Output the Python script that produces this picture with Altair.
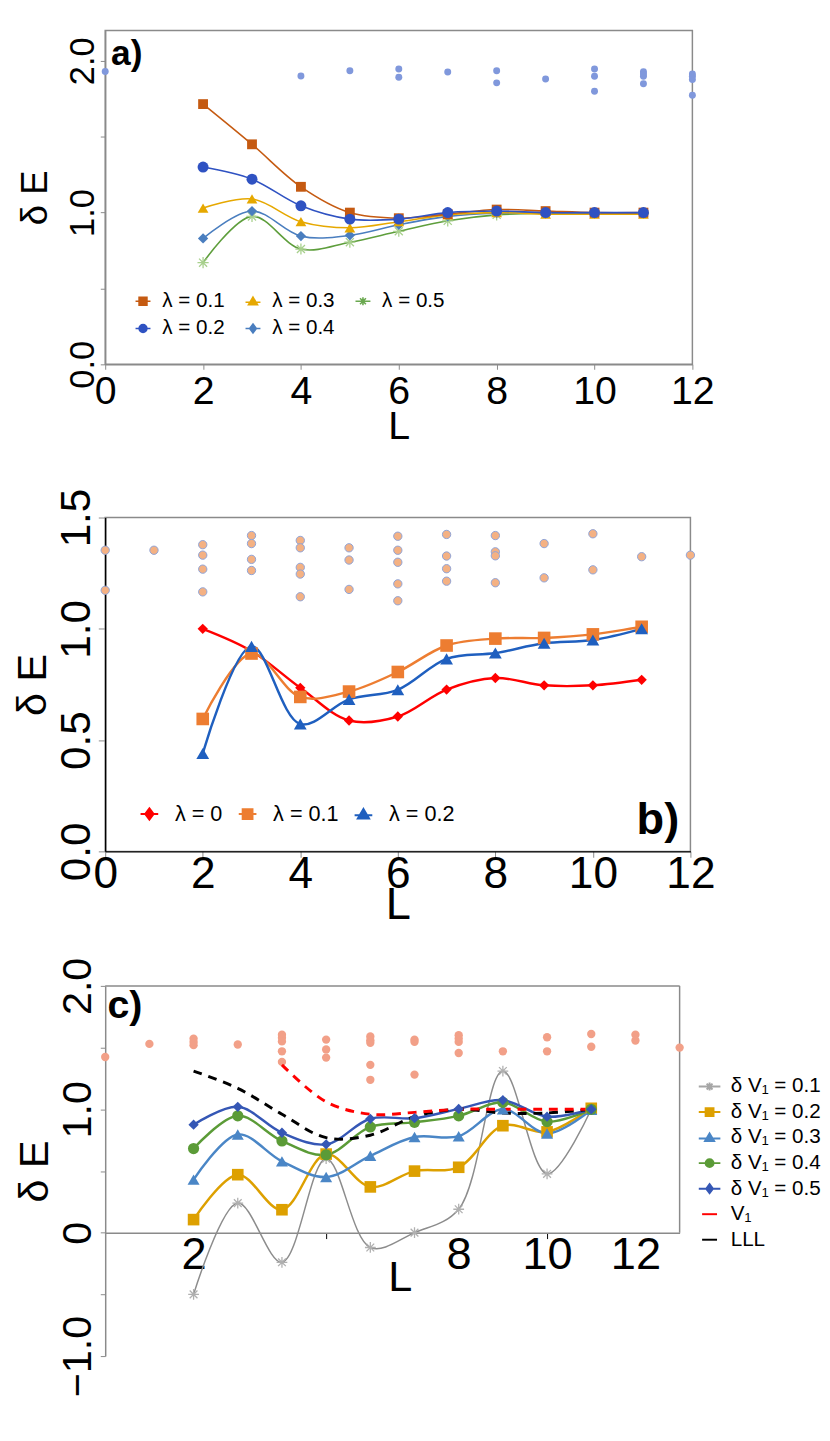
import altair as alt
import pandas as pd

FONT = "Liberation Sans"
GRAY = "#8a8a8a"

# ---------------- panel a data ----------------
A_L = [2, 3, 4, 5, 6, 7, 8, 9, 10, 11]
A_LAM01 = [1.715, 1.45, 1.17, 1.00, 0.963, 0.99, 1.02, 1.01, 1.00, 1.00]
A_LAM02 = [1.30, 1.22, 1.045, 0.957, 0.957, 1.00, 1.01, 1.00, 1.00, 1.00]
A_LAM03 = [1.03, 1.09, 0.94, 0.90, 0.94, 0.985, 1.00, 0.99, 0.99, 0.99]
A_LAM04 = [0.83, 1.01, 0.845, 0.85, 0.92, 0.975, 0.996, 0.996, 0.996, 0.996]
A_LAM05 = [0.67, 0.975, 0.76, 0.805, 0.877, 0.946, 0.985, 0.996, 0.996, 0.996]
A_NAMES = ["λ = 0.1", "λ = 0.2", "λ = 0.3", "λ = 0.4", "λ = 0.5"]
A_SCAT_L = [0, 4, 5, 6, 6, 7, 8, 8, 9, 10, 10, 10, 11, 11, 11, 11, 12, 12, 12, 12]
A_SCAT_E = [1.93, 1.90, 1.935, 1.946, 1.892, 1.927, 1.935, 1.855, 1.881,
            1.946, 1.898, 1.80, 1.929, 1.914, 1.898, 1.849, 1.914, 1.898, 1.877, 1.773]

# ---------------- panel b data ----------------
B_L = [2, 3, 4, 5, 6, 7, 8, 9, 10, 11]
B_LAM0 = [1.0, 0.90, 0.735, 0.588, 0.606, 0.727, 0.779, 0.746, 0.746, 0.771]
B_LAM01 = [0.595, 0.889, 0.694, 0.718, 0.806, 0.925, 0.956, 0.959, 0.975, 1.009]
B_LAM02 = [0.44, 0.921, 0.572, 0.683, 0.726, 0.865, 0.891, 0.935, 0.95, 1.0]
B_NAMES = ["λ = 0", "λ = 0.1", "λ = 0.2"]
B_SCAT_L = [0, 0, 1, 2, 2, 2, 2, 3, 3, 3, 3, 4, 4, 4, 4, 4, 5, 5, 5,
            6, 6, 6, 6, 6, 7, 7, 7, 7, 8, 8, 8, 8, 9, 9, 10, 10, 11, 12]
B_SCAT_E = [1.353, 1.173, 1.353, 1.378, 1.331, 1.268, 1.166, 1.419, 1.383, 1.312, 1.262,
            1.397, 1.364, 1.276, 1.246, 1.144, 1.364, 1.309, 1.177,
            1.416, 1.353, 1.299, 1.202, 1.126, 1.424, 1.327, 1.27, 1.214,
            1.419, 1.346, 1.328, 1.207, 1.383, 1.229, 1.427, 1.265, 1.324, 1.331]

# ---------------- panel c data ----------------
C_L = [2, 3, 4, 5, 6, 7, 8, 9, 10, 11]
C_DV01 = [-0.50, 0.24, -0.24, 0.60, -0.12, 0.0, 0.19, 1.31, 0.477, 1.0]
C_DV02 = [0.106, 0.47, 0.186, 0.637, 0.371, 0.499, 0.53, 0.867, 0.817, 1.008]
C_DV03 = [0.43, 0.796, 0.578, 0.451, 0.623, 0.775, 0.782, 1.0, 0.804, 0.995]
C_DV04 = [0.682, 0.947, 0.743, 0.631, 0.857, 0.894, 0.947, 1.056, 0.90, 1.0]
C_DV05 = [0.875, 1.02, 0.81, 0.716, 0.923, 0.928, 1.003, 1.074, 0.94, 1.0]
C_V1_L = [4, 5, 6, 7, 8, 9, 10, 11]
C_V1 = [1.36, 1.06, 0.96, 0.975, 1.0, 1.0, 1.0, 1.0]
C_LLL_L = [2, 3, 4, 5, 6, 7, 8, 9, 10, 11]
C_LLL = [1.31, 1.17, 0.96, 0.77, 0.79, 0.94, 1.0, 0.97, 0.97, 1.0]
C_NAMES = ["δ V₁ = 0.1", "δ V₁ = 0.2", "δ V₁ = 0.3", "δ V₁ = 0.4", "δ V₁ = 0.5", "\u00a0V₁", "LLL"]
C_SCAT_L = [0, 1, 2, 2, 2, 3, 4, 4, 4, 4, 4, 5, 5, 5, 6, 6, 6, 6, 6,
            7, 7, 7, 8, 8, 8, 8, 9, 10, 10, 11, 11, 12, 12, 13]
C_SCAT_E = [1.424, 1.53, 1.573, 1.546, 1.52, 1.525, 1.605, 1.58, 1.55, 1.47, 1.384,
            1.565, 1.485, 1.419, 1.59, 1.56, 1.539, 1.36, 1.239,
            1.565, 1.547, 1.281, 1.6, 1.573, 1.546, 1.456, 1.47, 1.584, 1.47,
            1.61, 1.507, 1.605, 1.557, 1.5]

# ---------------- marker shapes ----------------
SQ = "square"
CIRC = "circle"
TRI = "triangle-up"
DIA = "diamond"
AST = "M-1,0H1M0,-1V1M-0.72,-0.72L0.72,0.72M-0.72,0.72L0.72,-0.72"


def leg_paths(ext):
    line = f"M-{ext},0H{ext}"
    return {
        "sq": line + "M-1,-1H1V1H-1Z",
        "circ": line + "M1,0A1,1,0,1,1,-1,0A1,1,0,1,1,1,0Z",
        "tri": f"M-{ext},0.25H{ext}" + "M0,-1.05L1.15,0.9H-1.15Z",
        "dia": line + "M0,-1.15L0.85,0L0,1.15L-0.85,0Z",
        "ast": line + "M0,-1V1M-0.75,-0.75L0.75,0.75M-0.75,0.75L0.75,-0.75",
        "dash": "M-1.9,0H1.9",
    }


def axis_common(**kw):
    base = dict(labelFont=FONT, titleFont=FONT, titleFontWeight="normal",
                labelColor="black", titleColor="black", grid=False,
                labelOverlap=False)
    base.update(kw)
    return alt.Axis(**base)


def series(xs, ys, x_enc, y_enc, color, shape=None, size=100, lw=2,
           marker_color=None, filled=True, dash=None, stroke_marker=1.3):
    df = pd.DataFrame({"L": xs, "dE": ys})
    base = alt.Chart(df)
    lkw = dict(interpolate="catmull-rom", color=color, strokeWidth=lw)
    if dash is not None:
        lkw["strokeDash"] = dash
    line = base.mark_line(**lkw).encode(x=x_enc, y=y_enc)
    pts = None
    if shape is not None:
        mc = marker_color or color
        if filled:
            pts = base.mark_point(shape=shape, filled=True, size=size, color=mc,
                                  opacity=1).encode(x=x_enc, y=y_enc)
        else:
            pts = base.mark_point(shape=shape, filled=False, size=size, color=mc,
                                  strokeWidth=stroke_marker, opacity=1).encode(x=x_enc, y=y_enc)
    return line, pts


def legend_layer(field, names, paths, fills, strokes, x_enc, y_enc, legend, size):
    df = pd.DataFrame({field: names, "L": [-100] * len(names), "dE": [-100] * len(names)})

    def sc(rng):
        return alt.Scale(domain=names, range=rng)

    return alt.Chart(df).mark_point(filled=True, clip=True, size=size,
                                    strokeWidth=1.6, opacity=1).encode(
        x=x_enc, y=y_enc,
        shape=alt.Shape(f"{field}:N", scale=sc(paths), legend=legend),
        fill=alt.Fill(f"{field}:N", scale=sc(fills), legend=legend),
        stroke=alt.Stroke(f"{field}:N", scale=sc(strokes), legend=legend),
    )


# =============== PANEL A ===============
A_COL = {"λ = 0.1": "#c55a11", "λ = 0.2": "#2f52c2", "λ = 0.3": "#e6a800",
         "λ = 0.4": "#4a7ebf", "λ = 0.5": "#a8d08d"}
xa = alt.X("L:Q", scale=alt.Scale(domain=[0, 12], nice=False, zero=False),
           axis=axis_common(values=list(range(0, 13, 2)), title="L", labelFontSize=40,
                            titleFontSize=40, tickSize=5, labelPadding=3, titlePadding=-4,
                            domainColor=GRAY, tickColor=GRAY, domainWidth=1.5,
                            labelFlush=False))
ya = alt.Y("dE:Q", scale=alt.Scale(domain=[0, 2.2], nice=False, zero=False),
           axis=axis_common(values=[0, 0.5, 1, 1.5, 2], format=".1f",
                            labelExpr="datum.value % 1 ? '' : datum.label",
                            title="δ E", labelAngle=270, labelAlign="center",
                            labelBaseline="alphabetic", labelFontSize=35,
                            titleFontSize=37, tickSize=5, labelPadding=7,
                            titlePadding=12, domainColor=GRAY, tickColor=GRAY,
                            domainWidth=1.5))

a_scat = alt.Chart(pd.DataFrame({"L": A_SCAT_L, "dE": A_SCAT_E})).mark_circle(
    size=50, color="#8098dc", opacity=1).encode(x=xa, y=ya)

a_specs = [
    (A_LAM05, "#5e9e3c", AST, 130, "#a8d08d", False),
    (A_LAM04, A_COL["λ = 0.4"], DIA, 110, None, True),
    (A_LAM03, A_COL["λ = 0.3"], TRI, 120, None, True),
    (A_LAM01, A_COL["λ = 0.1"], SQ, 100, None, True),
    (A_LAM02, A_COL["λ = 0.2"], CIRC, 125, None, True),
]
a_lines, a_pts = [], []
for ys, col, shp, sz, mcol, fil in a_specs:
    ln, pt = series(A_L, ys, xa, ya, col, shp, sz, 1.6, mcol, fil)
    a_lines.append(ln)
    a_pts.append(pt)

lpA = leg_paths(1.9)
A_LEG_PATH = {"λ = 0.1": lpA["sq"], "λ = 0.2": lpA["circ"], "λ = 0.3": lpA["tri"],
              "λ = 0.4": lpA["dia"], "λ = 0.5": lpA["ast"]}
a_legend = alt.Legend(title=None, orient="none", legendX=28, legendY=265, columns=3,
                      labelFont=FONT, labelFontSize=21, labelColor="black",
                      labelOffset=9, columnPadding=17, rowPadding=6, padding=0,
                      symbolSize=64, symbolStrokeWidth=1.6, symbolOpacity=1)
a_leg = legend_layer("sa", A_NAMES, [A_LEG_PATH[n] for n in A_NAMES],
                     [A_COL[n] for n in A_NAMES],
                     [("#6aa84f" if n == "λ = 0.5" else A_COL[n]) for n in A_NAMES],
                     xa, ya, a_legend, 64)

a_txt = alt.Chart(pd.DataFrame({"t": ["a)"]})).mark_text(
    font=FONT, fontSize=36, fontWeight="bold", align="left", baseline="alphabetic",
    color="black").encode(x=alt.datum(0.12), y=alt.datum(1.97), text="t:N")

panel_a = alt.layer(a_scat, *a_lines, *a_pts, a_leg, a_txt).properties(
    width=598, height=340, view=alt.ViewBackground(stroke=GRAY, strokeWidth=1.5))

# =============== PANEL B ===============
B_COL = {"λ = 0": "#ff0000", "λ = 0.1": "#ed7d31", "λ = 0.2": "#1f5fbf"}
xb = alt.X("L:Q", scale=alt.Scale(domain=[0, 12], nice=False, zero=False),
           axis=axis_common(values=list(range(0, 13, 2)), title="L", labelFontSize=45,
                            titleFontSize=46, tickSize=6, labelPadding=-5, titlePadding=-14,
                            domainColor="black", tickColor=GRAY, domainWidth=1.5,
                            labelFlush=False))
yb = alt.Y("dE:Q", scale=alt.Scale(domain=[0, 1.5], nice=False, zero=False),
           axis=axis_common(values=[0, 0.5, 1, 1.5], format=".1f",
                            title="δ E", labelAngle=270, labelAlign="center",
                            labelBaseline="alphabetic", labelFontSize=43,
                            titleFontSize=42, tickSize=7, labelPadding=9,
                            titlePadding=2, domainColor="black", tickColor=GRAY,
                            domainWidth=1.5))

b_scat = alt.Chart(pd.DataFrame({"L": B_SCAT_L, "dE": B_SCAT_E})).mark_point(
    shape="circle", size=72, filled=True, fill="#f4b183", stroke="#8ea3d8",
    strokeWidth=1, opacity=1).encode(x=xb, y=yb)

b_specs = [
    (B_LAM0, B_COL["λ = 0"], DIA, 110),
    (B_LAM01, B_COL["λ = 0.1"], SQ, 165),
    (B_LAM02, B_COL["λ = 0.2"], TRI, 170),
]
b_lines, b_pts = [], []
for ys, col, shp, sz in b_specs:
    ln, pt = series(B_L, ys, xb, yb, col, shp, sz, 2.5)
    b_lines.append(ln)
    b_pts.append(pt)

lpB = leg_paths(1.8)
b_legend = alt.Legend(title=None, orient="none", legendX=34, legendY=291, columns=3,
                      labelFont=FONT, labelFontSize=22, labelColor="black",
                      labelOffset=15, columnPadding=12, padding=0, gridAlign="none",
                      symbolSize=100, symbolStrokeWidth=2, symbolOpacity=1)
b_leg = legend_layer("sb", B_NAMES, [lpB["dia"], lpB["sq"], lpB["tri"]],
                     [B_COL[n] for n in B_NAMES], [B_COL[n] for n in B_NAMES],
                     xb, yb, b_legend, 100)

b_txt = alt.Chart(pd.DataFrame({"t": ["b)"]})).mark_text(
    font=FONT, fontSize=46, fontWeight="bold", align="right", baseline="alphabetic",
    color="black").encode(x=alt.datum(11.77), y=alt.datum(0.078), text="t:N")

panel_b = alt.layer(b_scat, *b_lines, *b_pts, b_leg, b_txt).properties(
    width=596, height=340, view=alt.ViewBackground(stroke=GRAY, strokeWidth=1.5))

# =============== PANEL C ===============
C_COL = {"δ V₁ = 0.1": "#a6a6a6", "δ V₁ = 0.2": "#dda000", "δ V₁ = 0.3": "#4a86c6",
         "δ V₁ = 0.4": "#5b9b37", "δ V₁ = 0.5": "#3557b5", "\u00a0V₁": "#ff0000",
         "LLL": "#000000"}
C_H = 377
xc = alt.X("L:Q", scale=alt.Scale(domain=[0, 13], nice=False, zero=False),
           axis=axis_common(values=[2, 5, 8, 10, 12],
                            labelExpr="datum.value == 5 ? '' : datum.label",
                            title="L", labelFontSize=46, titleFontSize=44,
                            tickSize=6, labelPadding=-6, offset=-C_H / 3.0,
                            titleX=300, titleY=24, titleAlign="center",
                            titleBaseline="top",
                            tickOpacity={"condition": {"test": "datum.value == 5 || datum.value == 10",
                                                       "value": 1}, "value": 0},
                            domainColor=GRAY, tickColor="black", domainWidth=1.5,
                            labelFlush=False))
yc = alt.Y("dE:Q", scale=alt.Scale(domain=[-1, 2], nice=False, zero=False),
           axis=axis_common(values=[-1, -0.5, 0, 0.5, 1, 1.5, 2], format=".1f",
                            labelExpr="datum.value == 0 ? '0' : (datum.value % 1 ? '' : datum.label)",
                            title="δ E", labelAngle=270, labelAlign="center",
                            labelBaseline="alphabetic", labelFontSize=42,
                            titleFontSize=42, tickSize=5, labelPadding=10,
                            titlePadding=1, domainColor=GRAY, tickColor=GRAY,
                            domainWidth=1.5))

c_frame_top = alt.Chart(pd.DataFrame({"k": [0]})).mark_rule(color=GRAY, strokeWidth=1.5).encode(
    x=alt.datum(0), x2=alt.datum(13), y=alt.datum(2))
c_frame_right = alt.Chart(pd.DataFrame({"k": [0]})).mark_rule(color=GRAY, strokeWidth=1.5).encode(
    x=alt.datum(13), y=alt.datum(0), y2=alt.datum(2))

c_scat = alt.Chart(pd.DataFrame({"L": C_SCAT_L, "dE": C_SCAT_E})).mark_circle(
    size=72, color="#f2a088", opacity=1).encode(x=xc, y=yc)

c_specs = [
    (C_DV01, "#8c8c8c", AST, 120, "#b0b0b0", False, 1.5),
    (C_DV02, C_COL["δ V₁ = 0.2"], SQ, 140, None, True, 2.5),
    (C_DV03, C_COL["δ V₁ = 0.3"], TRI, 150, None, True, 2.5),
    (C_DV04, C_COL["δ V₁ = 0.4"], CIRC, 130, None, True, 2.5),
    (C_DV05, C_COL["δ V₁ = 0.5"], DIA, 110, None, True, 2.5),
]
c_lines, c_pts = [], []
for ys, col, shp, sz, mcol, fil, lw in c_specs:
    ln, pt = series(C_L, ys, xc, yc, col, shp, sz, lw, mcol, fil)
    c_lines.append(ln)
    c_pts.append(pt)
c_lll, _ = series(C_LLL_L, C_LLL, xc, yc, "#000000", lw=3, dash=[9, 7])
c_v1, _ = series(C_V1_L, C_V1, xc, yc, "#ff0000", lw=3, dash=[9, 7])

lpC = leg_paths(2.75)
c_legend = alt.Legend(title=None, orient="none", legendX=605, legendY=92, columns=1,
                      labelFont=FONT, labelFontSize=21, labelColor="black",
                      labelOffset=11, rowPadding=4, padding=0,
                      symbolSize=64, symbolStrokeWidth=2, symbolOpacity=1)
c_leg = legend_layer("sc", C_NAMES,
                     [lpC["ast"], lpC["sq"], lpC["tri"], lpC["circ"], lpC["dia"],
                      lpC["dash"], lpC["dash"]],
                     [C_COL[n] for n in C_NAMES],
                     ["#a6a6a6", "#dda000", "#4a86c6", "#5b9b37", "#3557b5", "#ff0000", "#000000"],
                     xc, yc, c_legend, 64)

c_txt = alt.Chart(pd.DataFrame({"t": ["c)"]})).mark_text(
    font=FONT, fontSize=40, fontWeight="bold", align="left", baseline="alphabetic",
    color="black").encode(x=alt.datum(0.05), y=alt.datum(1.737), text="t:N")

panel_c = alt.layer(c_frame_top, c_frame_right, c_scat, *c_lines, c_lll, c_v1,
                    *c_pts, c_leg, c_txt).properties(
    width=585, height=C_H, view=alt.ViewBackground(stroke="transparent"))

RES = dict(x="independent", y="independent", fill="independent",
           stroke="independent", shape="independent")
LRES = dict(fill="independent", stroke="independent", shape="independent")

inner = alt.vconcat(panel_b, panel_c, spacing=137, bounds="flush").resolve_scale(
    **RES).resolve_legend(**LRES)
chart = alt.vconcat(panel_a, inner, spacing=156, bounds="flush").resolve_scale(
    **RES).resolve_legend(**LRES).properties(
    padding={"left": 3, "top": 9, "right": 0, "bottom": 0}).configure(font=FONT)

chart.save("out.html", embed_options={"renderer": "svg", "actions": False})
